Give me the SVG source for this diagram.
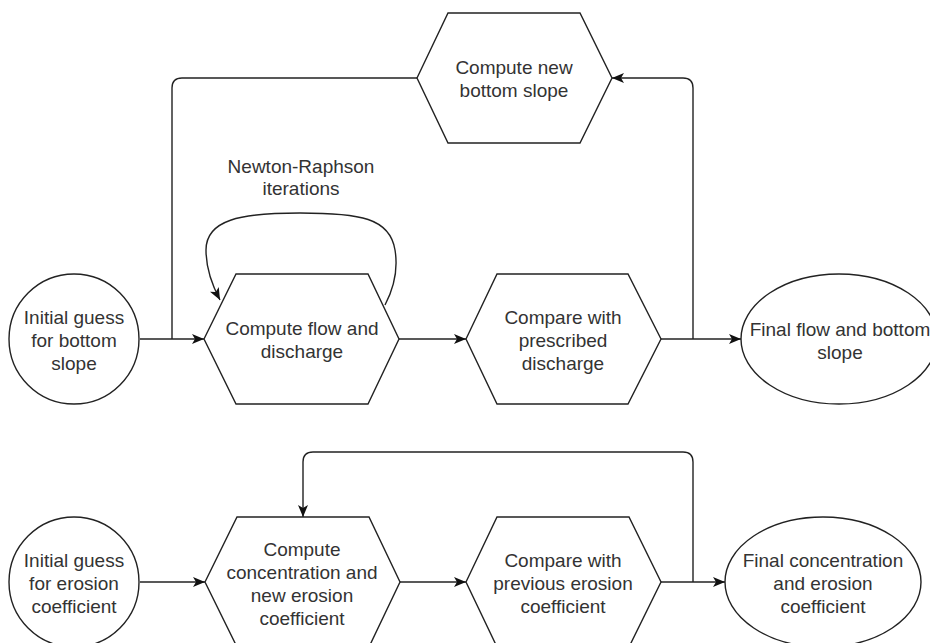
<svg xmlns="http://www.w3.org/2000/svg" width="930" height="643" viewBox="0 0 930 643">
<defs>
<marker id="arr" viewBox="0 0 12 10" refX="12" refY="5" markerWidth="12" markerHeight="10" markerUnits="userSpaceOnUse" orient="auto">
<path d="M0,0 L12,5 L0,10 L3,5 Z" fill="#111"/>
</marker>
<style>
.shape{fill:#fff;stroke:#222;stroke-width:1.4}
.edge{fill:none;stroke:#222;stroke-width:1.4}
.arrow{marker-end:url(#arr)}
text{font-family:"Liberation Sans",Arial,sans-serif;font-size:19px;fill:#333;text-anchor:middle}
</style>
</defs>
<rect width="930" height="643" fill="#fff"/>
<g id="connectors">
<path class="edge arrow" d="M140,339 L204,339"/>
<path class="edge arrow" d="M399,339 L466,339"/>
<path class="edge arrow" d="M661,339 L741,339"/>
<path class="edge arrow" d="M693,339 L693,88 Q693,78 683,78 L612,78"/>
<path class="edge" d="M417,78 L182,78 Q172,78 172,88 L172,339"/>
<path class="edge arrow" d="M385,305 C398,280 397,262 395,250 C390,218 360,213 300,213 C240,213 206,220 206,250 C206,268 212,285 220,300"/>
<path class="edge arrow" d="M140,582 L205,582"/>
<path class="edge arrow" d="M400,582 L466,582"/>
<path class="edge arrow" d="M661,582 L725,582"/>
<path class="edge arrow" d="M693,582 L693,462 Q693,452 683,452 L313,452 Q303,452 303,462 L303,517"/>
</g>
<g id="newBottomSlope">
<polygon class="shape" points="417,78 448,13 580,13 612,78 580,143 448,143"/>
<text x="514" y="73.5">Compute new</text>
<text x="514" y="96.5">bottom slope</text>
</g>
<g id="newtonLabel">
<text x="301" y="172.5">Newton-Raphson</text>
<text x="301" y="194.5">iterations</text>
</g>
<g id="initialSlope">
<circle class="shape" cx="74" cy="339" r="65"/>
<text x="74" y="323.5">Initial guess</text>
<text x="74" y="346.5">for bottom</text>
<text x="74" y="369.5">slope</text>
</g>
<g id="computeFlow">
<polygon class="shape" points="204,339 236,274 368,274 399,339 368,404 236,404"/>
<text x="302" y="334.5">Compute flow and</text>
<text x="302" y="357.5">discharge</text>
</g>
<g id="compareDischarge">
<polygon class="shape" points="466,339 497,274 628,274 661,339 628,404 497,404"/>
<text x="563" y="323.5">Compare with</text>
<text x="563" y="346.5">prescribed</text>
<text x="563" y="369.5">discharge</text>
</g>
<g id="finalFlow">
<ellipse class="shape" cx="839" cy="339" rx="98" ry="65"/>
<text x="840" y="336">Final flow and bottom</text>
<text x="840" y="358.5">slope</text>
</g>
<g id="initialErosion">
<circle class="shape" cx="74" cy="582" r="65"/>
<text x="74" y="566.5">Initial guess</text>
<text x="74" y="589.5">for erosion</text>
<text x="74" y="612.5">coefficient</text>
</g>
<g id="computeConcentration">
<polygon class="shape" points="205,582 237,517 369,517 400,582 369,647 237,647"/>
<text x="302" y="555.5">Compute</text>
<text x="302" y="578.5">concentration and</text>
<text x="302" y="601.5">new erosion</text>
<text x="302" y="624.5">coefficient</text>
</g>
<g id="compareErosion">
<polygon class="shape" points="466,582 497,517 629,517 661,582 629,647 497,647"/>
<text x="563" y="566.5">Compare with</text>
<text x="563" y="589.5">previous erosion</text>
<text x="563" y="612.5">coefficient</text>
</g>
<g id="finalConcentration">
<ellipse class="shape" cx="823" cy="582" rx="98" ry="65"/>
<text x="823" y="566.5">Final concentration</text>
<text x="823" y="589.5">and erosion</text>
<text x="823" y="612.5">coefficient</text>
</g>
</svg>
